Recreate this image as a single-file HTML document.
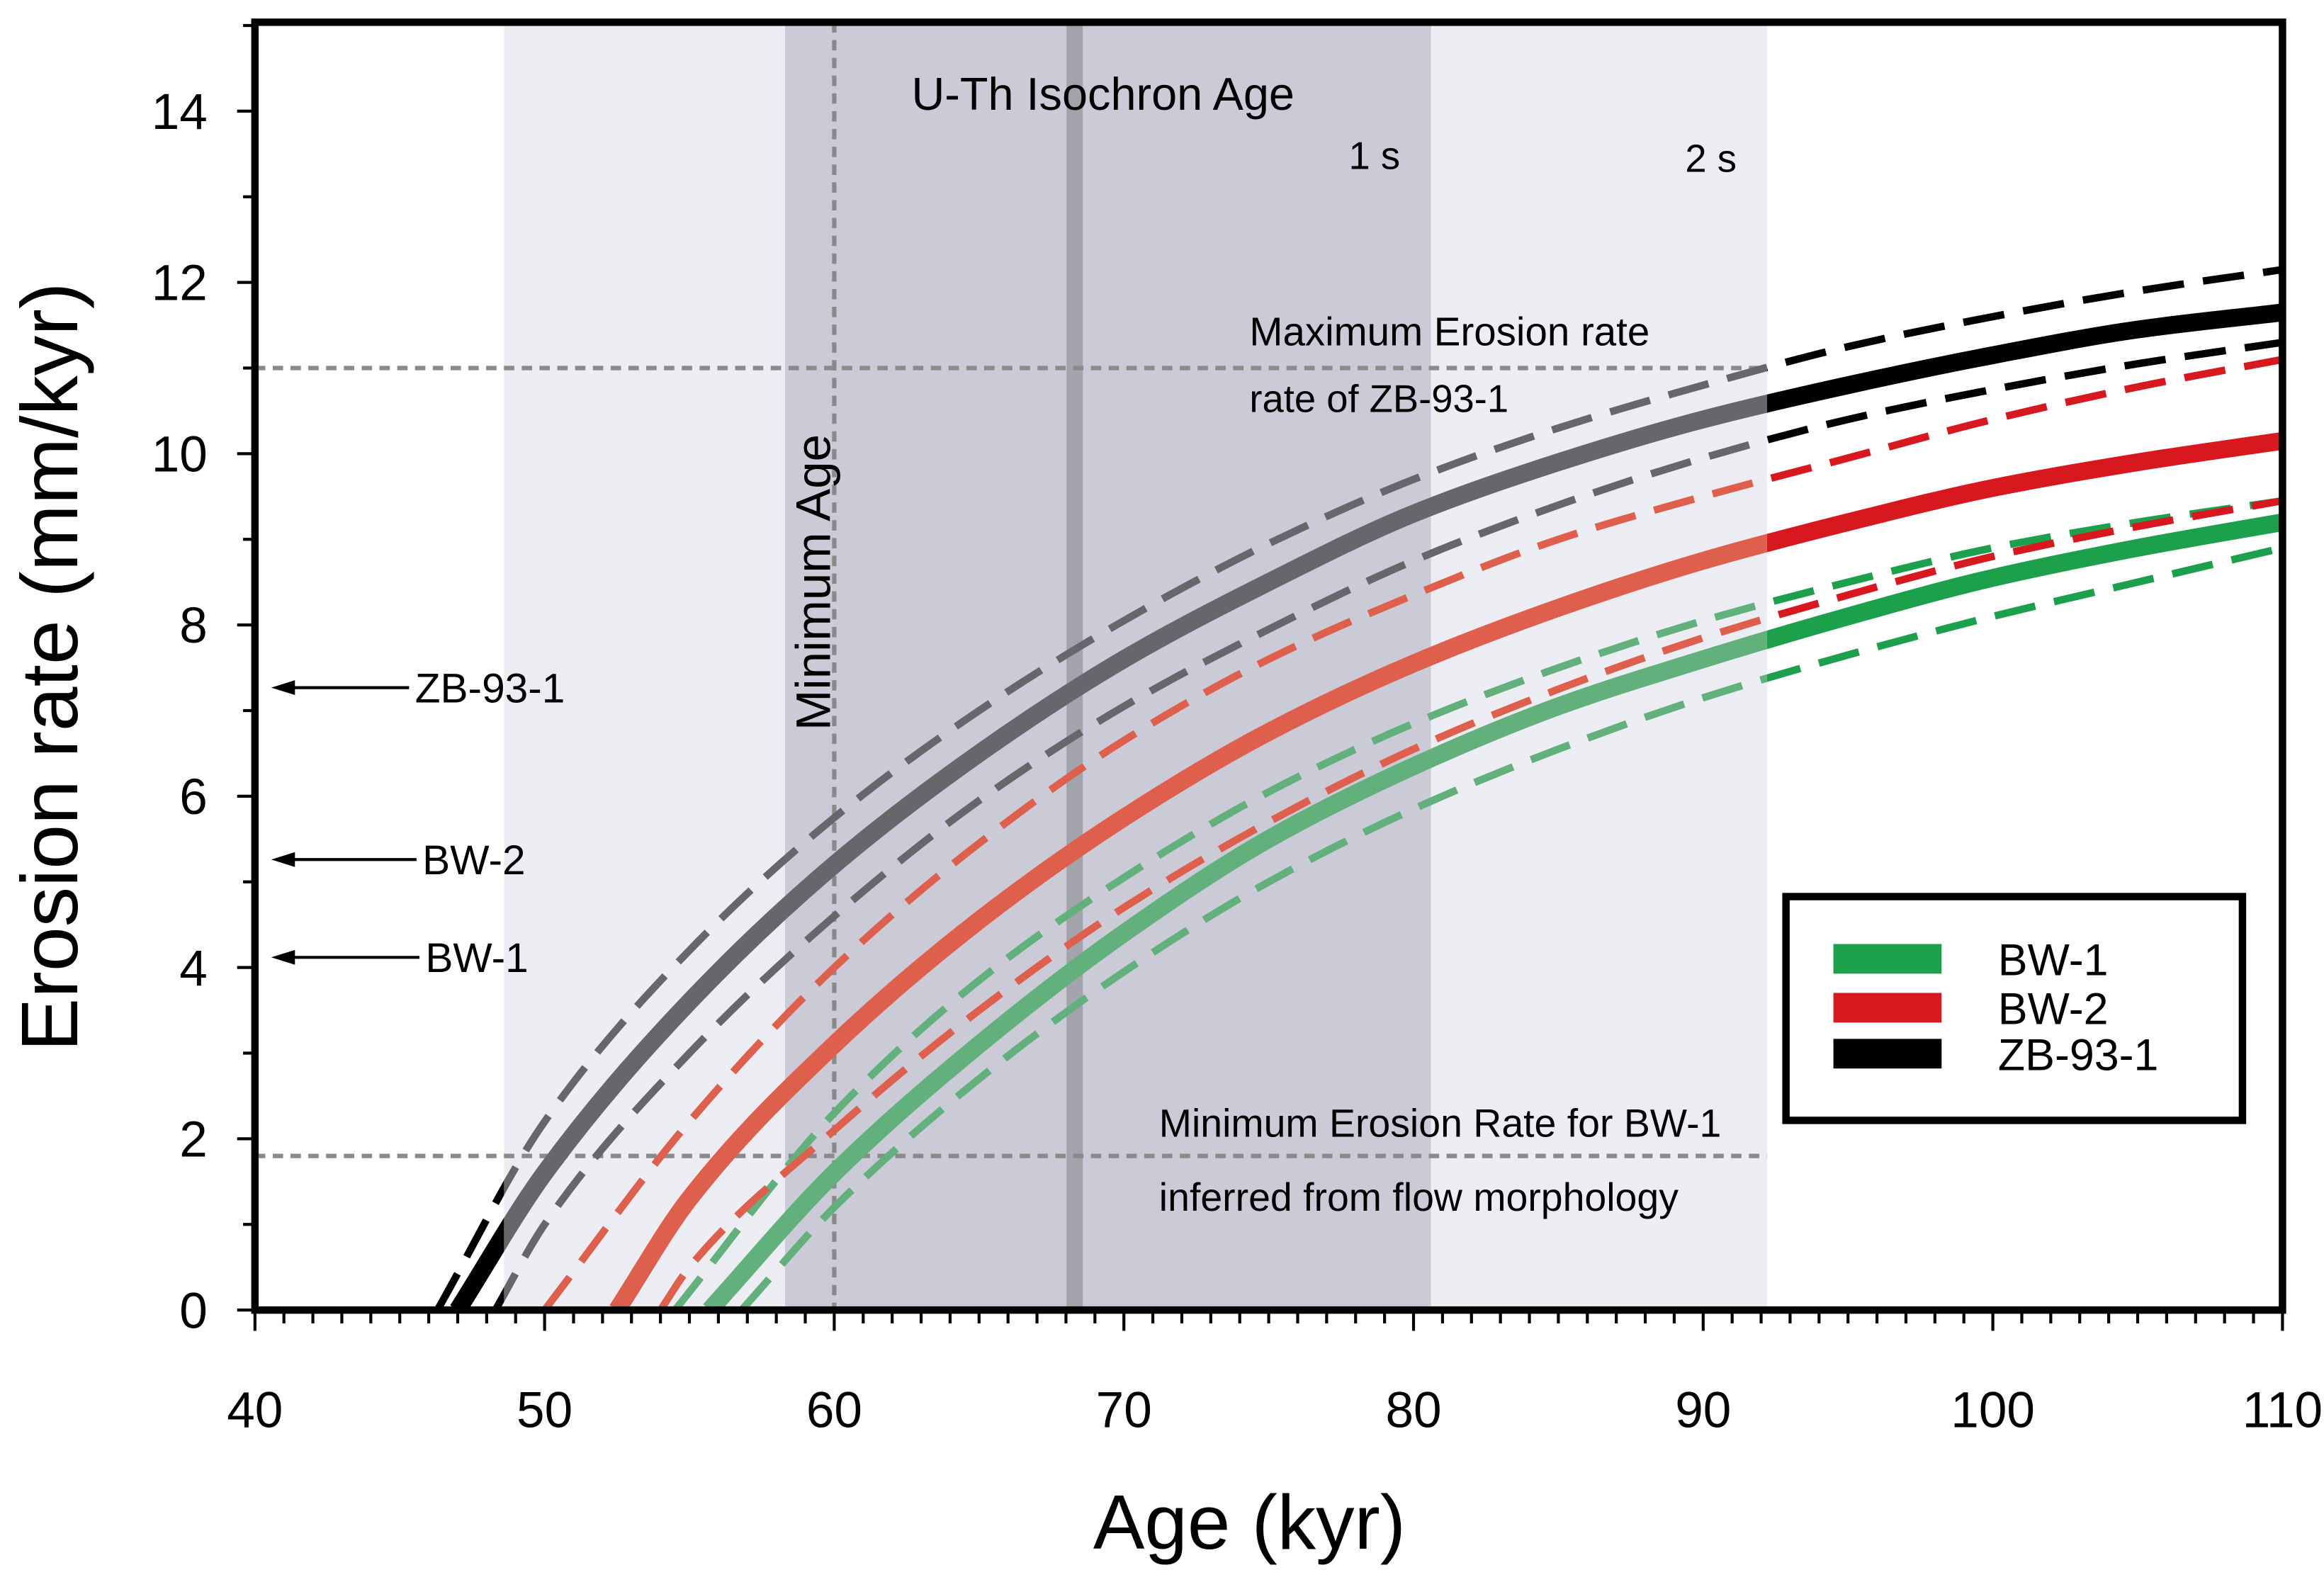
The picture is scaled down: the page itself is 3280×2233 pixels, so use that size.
<!DOCTYPE html>
<html><head><meta charset="utf-8"><style>
html,body{margin:0;padding:0;background:#fff}
svg{display:block}
text{font-family:"Liberation Sans",sans-serif}
</style></head><body>
<svg id="chart" width="3280" height="2233" viewBox="0 0 1568 1067.5" xmlns="http://www.w3.org/2000/svg">
<defs>
<clipPath id="plotClip"><rect x="172" y="15" width="1368" height="869"/></clipPath>
<clipPath id="inBand"><rect id="inBandRect" x="0" y="0" width="0" height="1067"/></clipPath>
<clipPath id="outBand"><path id="outBandPath" d=""/></clipPath>
</defs>
<g id="bands"></g>
<g id="guides"></g>
<g id="series" clip-path="url(#plotClip)"></g>
<g id="axes"></g>
<g id="annot"></g>
</svg>
<script>
const xTicks=[40,50,60,70,80,90,100,110];
const yTicks=[0,2,4,6,8,10,12,14];
const seriesNames=['ZB-93-1','BW-2','BW-1'];
const zbAge=[47,50,55,60,65,70,75,80,85,90,95,100,105,110];
const zbMid=[0,1.6,3.6,5.2,6.5,7.6,8.5,9.3,9.9,10.4,10.8,11.15,11.45,11.65];
const zbUpAge=[46.3,50,55,60,65,70,75,80,85,90,95,100,105,110];
const zbUp=[0,2.2,4.2,5.75,7.0,8.05,8.95,9.7,10.3,10.8,11.25,11.6,11.9,12.15];
const zbLoAge=[48.3,50,55,60,65,70,75,80,85,90,95,100,105,110];
const zbLo=[0,1.0,3.0,4.6,5.95,7.05,7.95,8.75,9.4,9.95,10.4,10.75,11.05,11.3];
const bw2Age=[52.5,55,60,65,70,75,80,85,90,95,100,105,110];
const bw2Mid=[0,1.3,3.1,4.55,5.75,6.75,7.55,8.2,8.75,9.2,9.6,9.9,10.15];
const bw2UpAge=[50,55,60,65,70,75,80,85,90,95,100,105,110];
const bw2Up=[0,2.2,4.0,5.45,6.65,7.6,8.35,9.0,9.5,9.95,10.4,10.78,11.1];
const bw2LoAge=[54,55,60,65,70,75,80,85,90,95,100,105,110];
const bw2Lo=[0,0.5,2.1,3.5,4.7,5.7,6.55,7.25,7.85,8.35,8.8,9.15,9.45];
const bw1Age=[55.7,60,65,70,75,80,85,90,95,100,105,110];
const bw1Mid=[0,1.6,3.1,4.4,5.5,6.35,7.05,7.6,8.1,8.55,8.9,9.2];
const bw1UpAge=[54.5,60,65,70,75,80,85,90,95,100,105,110];
const bw1Up=[0,2.3,3.85,5.05,6.05,6.85,7.5,8.05,8.5,8.9,9.2,9.45];
const bw1LoAge=[56.8,60,65,70,75,80,85,90,95,100,105,110];
const bw1Lo=[0,1.2,2.7,3.95,5.0,5.85,6.55,7.15,7.65,8.1,8.5,8.9];
const outerBand=[48.6,92.2];
const innerBand=[58.3,80.6];
const isochronAge=68.3;
const minAge=60;
const maxRateZB=11;
const minRateBW1=1.8;

const L=172,R=1540,T=15,B=884;
const X=v=>L+(v-40)/(110-40)*(R-L);
const Y=v=>B-v/14*(B-75);
const NS='http://www.w3.org/2000/svg';
function mk(tag,attrs,parent){const e=document.createElementNS(NS,tag);for(const k in attrs)e.setAttribute(k,attrs[k]);parent.appendChild(e);return e;}
function txt(s,attrs,parent){const e=mk('text',attrs,parent);e.textContent=s;return e;}

const bands=document.getElementById('bands');
let r=mk('rect',{x:X(outerBand[0]),y:T,width:X(outerBand[1])-X(outerBand[0]),height:B-T,fill:'#ececf3'},bands);


r=mk('rect',{x:X(innerBand[0]),y:T,width:X(innerBand[1])-X(innerBand[0]),height:B-T,fill:'#cbcad7'},bands);


r=mk('rect',{x:X(isochronAge)-5.5,y:T,width:11,height:B-T,fill:'#a3a3ab'},bands);



document.getElementById('inBandRect').setAttribute('x',X(outerBand[0]));
document.getElementById('inBandRect').setAttribute('width',X(outerBand[1])-X(outerBand[0]));
document.getElementById('outBandPath').setAttribute('d',`M0 0H${X(outerBand[0])}V1067H0Z M${X(outerBand[1])} 0H1568V1067H${X(outerBand[1])}Z`);

const guides=document.getElementById('guides');
let g=mk('line',{x1:X(minAge),x2:X(minAge),y1:T,y2:B,stroke:'#8a8a8a','stroke-width':3,'stroke-dasharray':'7 5'},guides);


g=mk('line',{x1:L,x2:X(outerBand[1]),y1:Y(maxRateZB),y2:Y(maxRateZB),stroke:'#8a8a8a','stroke-width':3,'stroke-dasharray':'7 5'},guides);


g=mk('line',{x1:L,x2:X(outerBand[1]),y1:Y(minRateBW1),y2:Y(minRateBW1),stroke:'#8a8a8a','stroke-width':3,'stroke-dasharray':'7 5'},guides);



// monotone cubic (Fritsch-Carlson) interpolation
function pathD(ax,vals){
  const n=ax.length,xs=ax.map(X),ys=vals.map(Y);
  const dx=[],m=[],t=new Array(n);
  for(let i=0;i<n-1;i++){dx.push(xs[i+1]-xs[i]);m.push((ys[i+1]-ys[i])/dx[i]);}
  t[0]=m[0];t[n-1]=m[n-2];
  for(let i=1;i<n-1;i++){
    if(m[i-1]*m[i]<=0)t[i]=0;
    else{const w1=2*dx[i]+dx[i-1],w2=dx[i]+2*dx[i-1];t[i]=(w1+w2)/(w1/m[i-1]+w2/m[i]);}
  }
  let d=`M${xs[0]} ${ys[0]}`;
  for(let i=0;i<n-1;i++){
    const h=dx[i]/3;
    d+=`C${xs[i]+h} ${ys[i]+t[i]*h} ${xs[i+1]-h} ${ys[i+1]-t[i+1]*h} ${xs[i+1]} ${ys[i+1]}`;
  }
  return d;
}
const seriesG=document.getElementById('series');
const defs=[
 {name:'bw1',dark:'#1ca04c',light:'#62b07c',lines:[[bw1UpAge,bw1Up,0],[bw1LoAge,bw1Lo,0],[bw1Age,bw1Mid,1]]},
 {name:'bw2',dark:'#d7191f',light:'#de604c',lines:[[bw2UpAge,bw2Up,0],[bw2LoAge,bw2Lo,0],[bw2Age,bw2Mid,1]]},
 {name:'zb-93-1',dark:'#000000',light:'#67676b',lines:[[zbUpAge,zbUp,0],[zbLoAge,zbLo,0],[zbAge,zbMid,1]]}
];
defs.forEach(s=>{
  s.lines.forEach((ln,i)=>{
    const d=pathD(ln[0],ln[1]);
    const solid=ln[2]===1;
    [['outBand',s.dark],['inBand',s.light]].forEach(([clip,col])=>{
      const grp=mk('g',{'clip-path':`url(#${clip})`},seriesG);
      const p=mk('path',{d:d,fill:'none',stroke:col,'stroke-width':solid?12:5,'stroke-dasharray':solid?'none':'28 13'},grp);
      
      
    });
  });
});

const axes=document.getElementById('axes');
xTicks.forEach(v=>{
  const t=txt(String(v),{x:X(v),y:963,'font-size':34,'text-anchor':'middle'},axes);
  
  
});
for(let v=40;v<=110;v++){mk('line',{x1:X(v),x2:X(v),y1:B,y2:B+(v%10===0?14:9),stroke:'#000','stroke-width':2},axes);}
yTicks.forEach(v=>{
  const t=txt(String(v),{x:140,y:Y(v)+12,'font-size':34,'text-anchor':'end'},axes);
  
  
});
for(let v=0;v<=15;v++){mk('line',{x1:L,x2:L-(v%2===0?12:8),y1:Y(v),y2:Y(v),stroke:'#000','stroke-width':2},axes);}
let fr=mk('rect',{x:L,y:T,width:R-L,height:B-T,fill:'none',stroke:'#000','stroke-width':5},axes);


let xt=txt('Age (kyr)',{x:843,y:1045,'font-size':52,'text-anchor':'middle'},axes);


let yt=txt('Erosion rate (mm/kyr)',{x:0,y:0,'font-size':54,'text-anchor':'middle',transform:'translate(52,450) rotate(-90)'},axes);



const an=document.getElementById('annot');
function note(s,x,y,size,name,extra){const t=txt(s,Object.assign({x:x,y:y,'font-size':size},extra||{}),an);}
note('U-Th Isochron Age',615,74,31,'isochron-label');
note('1 s',910,114,26,'one-sigma-label');
note('2 s',1137,116,26,'two-sigma-label');
note('Maximum Erosion rate',843,233,27,'max-erosion-label');
note('rate of ZB-93-1',843,278,26,'max-erosion-label-2');
note('Minimum Erosion Rate for BW-1',782,767,26.5,'min-erosion-label');
note('inferred from flow morphology',782,817,26.5,'min-erosion-label-2');
note('Minimum Age',0,0,33,'minimum-age-label',{transform:'translate(560,393) rotate(-90)','text-anchor':'middle'});
[['ZB-93-1',464,280],['BW-2',580,285],['BW-1',646,287]].forEach(([s,y,x])=>{
  mk('line',{x1:x-4,x2:195,y1:y,y2:y,stroke:'#000','stroke-width':2},an);
  mk('path',{d:`M183 ${y} L199 ${y-5} L199 ${y+5}Z`,fill:'#000'},an);
  note(s,x,y+10,28,'arrow-label-'+s.toLowerCase());
});
const lg=mk('g',{},an);


mk('rect',{x:1205,y:605,width:308,height:151,fill:'#fff',stroke:'#000','stroke-width':5},lg);
[['BW-1','#1ca04c',647],['BW-2','#d7191f',680],['ZB-93-1','#000',711]].forEach(([s,c,y])=>{
  const sw=mk('rect',{x:1237,y:y-10,width:73,height:20,fill:c},lg);
  
  
  const t=txt(s,{x:1348,y:y+11,'font-size':30},lg);
  
  
});
</script>
</body></html>
